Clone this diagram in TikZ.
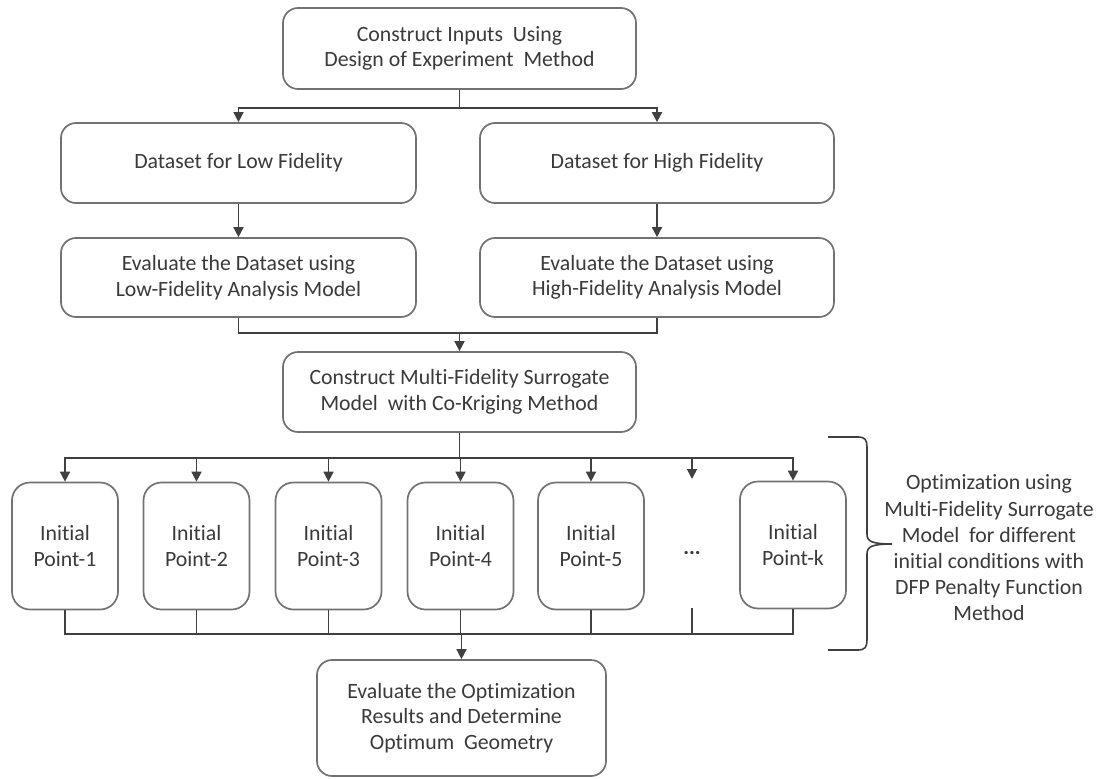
\documentclass[tikz,border=0pt]{standalone}
\usepackage{fontspec}
\setmainfont{Carlito}[RawFeature={-liga;-clig;-dlig;-calt}]
\usetikzlibrary{arrows.meta,calc}
\definecolor{boxgray}{HTML}{727272}
\definecolor{linegray}{HTML}{404040}
\definecolor{txtgray}{HTML}{3A3A3A}
\begin{document}
\begin{tikzpicture}[x=1pt,y=-1pt,
  box/.style={draw=boxgray, line width=1.7pt, rounded corners=15pt, align=center,
    text=txtgray, font=\fontsize{21.8}{25.5}\selectfont, inner sep=0pt},
  ptbox/.style={box, rounded corners=18pt, minimum width=106pt, minimum height=127pt},
  conn/.style={draw=linegray, line width=1.6pt},
  arr/.style={conn, -{Triangle[length=10pt,width=10pt]}}]
\useasboundingbox (0,0) rectangle (1101,779);
\fill[white] (0,0) rectangle (1101,779);

\node[box, minimum width=353pt, minimum height=81pt] (top) at (459.5,48.5) {Construct Inputs\ \ Using\\Design of Experiment\ \ Method};
\node[box, minimum width=355pt, minimum height=80pt] (low) at (238.5,163) {Dataset for Low Fidelity};
\node[box, minimum width=354pt, minimum height=80pt] (high) at (657,163) {Dataset for High Fidelity};
\node[box, minimum width=355pt, minimum height=79pt] (evlow) at (238.5,277.5) {Evaluate the Dataset using\\Low-Fidelity Analysis Model};
\node[box, minimum width=354pt, minimum height=79pt] (evhigh) at (657,277.5) {Evaluate the Dataset using\\High-Fidelity Analysis Model};
\node[box, minimum width=353pt, minimum height=80pt] (mf) at (459.5,392) {Construct Multi-Fidelity Surrogate\\Model\ \ with Co-Kriging Method};

\node[ptbox] (p1) at (65,546) {Initial\\Point-1};
\node[ptbox] (p2) at (196.5,546) {Initial\\Point-2};
\node[ptbox] (p3) at (328.5,546) {Initial\\Point-3};
\node[ptbox] (p4) at (460.5,546) {Initial\\Point-4};
\node[ptbox] (p5) at (591,546) {Initial\\Point-5};
\node[ptbox] (pk) at (793,545) {Initial\\Point-k};
\node[text=txtgray, font=\fontsize{21.8}{25.5}\selectfont\bfseries, inner sep=0pt] (dots) at (692,553) {...};

\node[box, minimum width=289pt, minimum height=116pt] (fin) at (461.5,718) {Evaluate the Optimization\\Results and Determine\\Optimum\ \ Geometry};

\node[align=center, text=txtgray, font=\fontsize{21.8}{26.2}\selectfont, inner sep=0pt] (note) at (989,548)
  {Optimization using\\Multi-Fidelity Surrogate\\Model\ \ for different\\initial conditions with\\DFP Penalty Function\\Method};

% top split
\coordinate (s) at ($(top.south)+(0,18)$);
\draw[conn] (top.south) -- (s);
\draw[arr] (s) -| (low.north);
\draw[arr] (s) -| (high.north);
\draw[arr] (low.south) -- (evlow.north);
\draw[arr] (high.south) -- (evhigh.north);
% merge
\coordinate (m) at ($(mf.north)+(0,-18)$);
\draw[conn] (evlow.south) |- (m) -| (evhigh.south);
\draw[arr] (m) -- (mf.north);
% distribute
\coordinate (d) at ($(mf.south)+(0,25)$);
\draw[conn] (mf.south) -- (d);
\foreach \p in {p1,p2,p3,p4,p5,pk} {\draw[arr] (d) -| (\p.north);}
\coordinate (dotsin) at (692,479);
\draw[arr] (d) -| (dotsin);
% collect
\coordinate (b) at ($(fin.north)+(0,-25)$);
\foreach \p in {p1,p2,p3,p4,p5,pk} {\draw[conn] (\p.south) |- (b);}
\coordinate (dotsout) at (692,608);
\draw[conn] (dotsout) |- (b);
\draw[arr] (b) -- (fin.north);

% bracket
\draw[draw=linegray, line width=1.6pt]
  (828,437) -- (858,437) .. controls (865,437) and (867,440) .. (867,447)
  -- (867,534) .. controls (867,541) and (871,544) .. (892,544)
  .. controls (871,544) and (867,547) .. (867,554)
  -- (867,640) .. controls (867,647) and (865,650) .. (858,650) -- (828,650);
\end{tikzpicture}
\end{document}
